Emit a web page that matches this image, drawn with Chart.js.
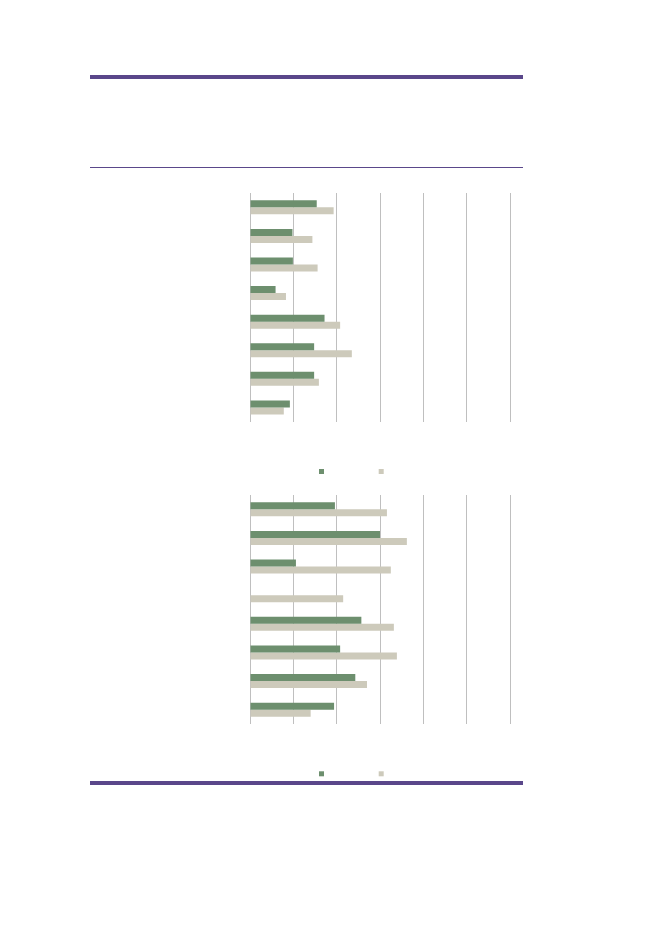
<!DOCTYPE html>
<html>
<head>
<meta charset="utf-8">
<script src="https://cdn.jsdelivr.net/npm/chart.js"></script>
<style>
    html, body { margin: 0; padding: 0; background: #fff; }
    body { width: 661px; height: 933px; position: relative; overflow: hidden; }
    .rule { position: absolute; left: 90px; width: 433px; background: #5a478a; }
    .rule.thick { height: 4px; }
    .rule.thin { height: 1.5px; }
    .chart-box { position: absolute; left: 0; width: 661px; }
    #box1 { top: 0; height: 480px; }
    #box2 { top: 400px; height: 380px; }
</style>
</head>
<body>
<div class="rule thick" style="top:74.5px"></div>
<div class="rule thin" style="top:166.5px"></div>
<div class="rule thick" style="top:781px"></div>

<div class="chart-box" id="box1"><canvas id="chart1"></canvas></div>
<div class="chart-box" id="box2"><canvas id="chart2"></canvas></div>

<script>
// Categories (labels are not shown in the picture)
const categories = ['1', '2', '3', '4', '5', '6', '7', '8'];
const seriesNames = ['A', 'B'];

// Top chart values
const topGreen = [1.54, 0.98, 0.99, 0.59, 1.72, 1.48, 1.48, 0.92];
const topBeige = [1.93, 1.44, 1.56, 0.83, 2.08, 2.35, 1.59, 0.78];

// Bottom chart values
const bottomGreen = [1.96, 3.0, 1.06, 0, 2.57, 2.08, 2.43, 1.94];
const bottomBeige = [3.16, 3.62, 3.25, 2.15, 3.32, 3.39, 2.70, 1.40];

const xTicks = [0, 1, 2, 3, 4, 5, 6];

const GREEN = '#6d8f6e';
const BEIGE = '#cdcabb';
const GRID = '#bfbfbf';

// Legend squares without labels, placed under the plot area
const squareLegend = {
    id: 'squareLegend',
    afterDraw(chart) {
        const { ctx, chartArea } = chart;
        const size = 5;
        chart.data.datasets.forEach((ds, i) => {
            ctx.save();
            ctx.fillStyle = ds.backgroundColor;
            ctx.fillRect(chartArea.left + 69 + i * 59.7, chartArea.bottom + 47.3, size, size);
            ctx.restore();
        });
    }
};

function makeChart(id, greenData, beigeData, padTop, padBottom) {
    const ctx = document.getElementById(id).getContext('2d');
    return new Chart(ctx, {
        type: 'bar',
        data: {
            labels: categories,
            datasets: [{
                label: seriesNames[0],
                data: greenData,
                backgroundColor: GREEN,
                borderWidth: 0
            }, {
                label: seriesNames[1],
                data: beigeData,
                backgroundColor: BEIGE,
                borderWidth: 0
            }]
        },
        options: {
            indexAxis: 'y',
            responsive: true,
            maintainAspectRatio: false,
            animation: false,
            layout: {
                padding: { top: padTop, left: 250, right: 151, bottom: padBottom }
            },
            datasets: {
                bar: {
                    categoryPercentage: 0.49,
                    barPercentage: 1.0
                }
            },
            scales: {
                x: {
                    min: xTicks[0],
                    max: xTicks[xTicks.length - 1],
                    ticks: { display: false, stepSize: 1 },
                    grid: { color: GRID, lineWidth: 1, drawTicks: false },
                    border: { display: false }
                },
                y: {
                    display: false
                }
            },
            plugins: {
                tooltip: { enabled: false },
                legend: { display: false }
            }
        },
        plugins: [squareLegend]
    });
}

makeChart('chart1', topGreen, topBeige, 193, 58.3);
makeChart('chart2', bottomGreen, bottomBeige, 95, 56);
</script>
</body>
</html>
